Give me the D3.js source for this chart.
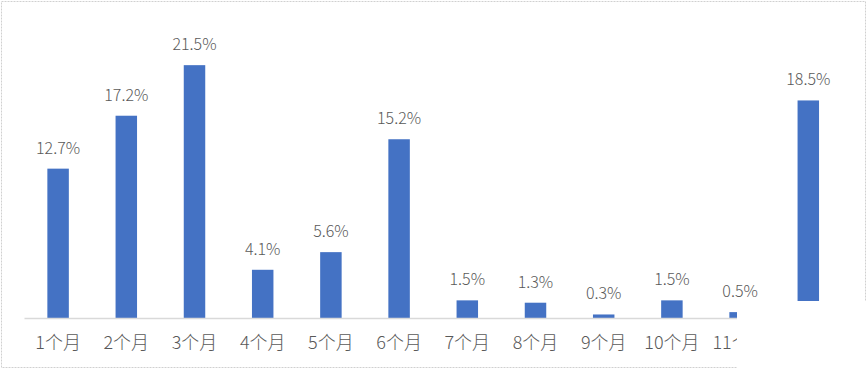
<!DOCTYPE html>
<html>
<head>
<meta charset="utf-8">
<title>月份分布</title>
<script src="https://cdn.jsdelivr.net/npm/d3@7"></script>
<style>
body { margin: 0; background: #fff; }
#chart text { font-family: "Noto Sans CJK SC", "Noto Sans", sans-serif; fill: #595959; }
</style>
</head>
<body>
<div id="chart"></div>
<script>
// data
var months = ["1个月", "2个月", "3个月", "4个月", "5个月", "6个月", "7个月", "8个月", "9个月", "10个月", "11个月", "12个月"];
var shares = [12.7, 17.2, 21.5, 4.1, 5.6, 15.2, 1.5, 1.3, 0.3, 1.5, 0.5, 18.5];

var W = 867, H = 369;
var svg = d3.select("#chart").append("svg")
    .attr("width", W)
    .attr("height", H);

// the screenshot is cut off at the bottom right corner
svg.append("clipPath")
    .attr("id", "cut")
  .append("polygon")
    .attr("points", "0,0 867,0 867,301 737,301 737,369 0,369");

var g = svg.append("g").attr("clip-path", "url(#cut)");

var x = d3.scaleBand()
    .domain(months)
    .range([24, 842.4])
    .paddingInner(0.685)
    .paddingOuter(0.3425);

var y = d3.scaleLinear()
    .domain([0, 25])
    .range([318, 24]);

// outer frame
g.append("rect")
    .attr("x", 1.5).attr("y", 1.5)
    .attr("width", 864).attr("height", 366)
    .attr("fill", "none")
    .attr("stroke", "#d0d0d0")
    .attr("stroke-dasharray", "2,1");

g.selectAll(".bar")
    .data(shares)
    .enter()
    .append("rect")
    .attr("class", "bar")
    .attr("x", function(d, i) { return x(months[i]); })
    .attr("y", function(d) { return y(d); })
    .attr("width", x.bandwidth())
    .attr("height", function(d) { return y(0) - y(d); })
    .attr("fill", "#4472C4");

g.selectAll(".lbl")
    .data(shares)
    .enter()
    .append("text")
    .attr("class", "lbl")
    .attr("x", function(d, i) { return x(months[i]) + x.bandwidth() / 2; })
    .attr("y", function(d) { return y(d) - 15; })
    .attr("text-anchor", "middle")
    .attr("font-size", "16px")
    .attr("font-weight", 300)
    .text(function(d) { return d.toFixed(1) + "%"; });

var xAxis = g.append("g")
    .attr("transform", "translate(0," + y(0) + ")")
    .call(d3.axisBottom(x).tickSize(0).tickSizeOuter(0).tickPadding(18));

xAxis.select(".domain").attr("stroke", "#d9d9d9").attr("stroke-width", 1.5);
xAxis.selectAll("text")
    .attr("font-size", "18px")
    .attr("font-weight", 300)
    .attr("fill", "#595959");
</script>
</body>
</html>
